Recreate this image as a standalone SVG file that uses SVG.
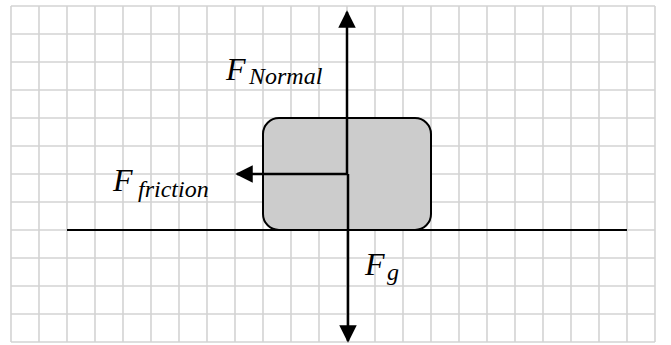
<svg xmlns="http://www.w3.org/2000/svg" width="671" height="345" viewBox="0 0 671 345">
<style>
.grid line{stroke:#d3d3d3;stroke-width:1.6}
.conn line{stroke:#000;stroke-width:2.5}
.lbl{font-family:"Liberation Serif","Times New Roman",serif;font-style:italic;fill:#000}
.big{font-size:32px}
.sub{font-size:24px}
</style>
<defs>
<marker id="ah" viewBox="0 0 10 10" refX="9" refY="5" markerWidth="7" markerHeight="7" markerUnits="strokeWidth" orient="auto">
<path d="M0,0 L10,5 L0,10 Z" fill="#000"/>
</marker>
</defs>
<rect x="0" y="0" width="671" height="345" fill="#fff"/>
<g class="grid" id="grid">
<line x1="11" y1="6" x2="11" y2="342"/><line x1="39" y1="6" x2="39" y2="342"/><line x1="67" y1="6" x2="67" y2="342"/><line x1="95" y1="6" x2="95" y2="342"/><line x1="123" y1="6" x2="123" y2="342"/><line x1="151" y1="6" x2="151" y2="342"/><line x1="179" y1="6" x2="179" y2="342"/><line x1="207" y1="6" x2="207" y2="342"/><line x1="235" y1="6" x2="235" y2="342"/><line x1="263" y1="6" x2="263" y2="342"/><line x1="291" y1="6" x2="291" y2="342"/><line x1="319" y1="6" x2="319" y2="342"/><line x1="347" y1="6" x2="347" y2="342"/><line x1="375" y1="6" x2="375" y2="342"/><line x1="403" y1="6" x2="403" y2="342"/><line x1="431" y1="6" x2="431" y2="342"/><line x1="459" y1="6" x2="459" y2="342"/><line x1="487" y1="6" x2="487" y2="342"/><line x1="515" y1="6" x2="515" y2="342"/><line x1="543" y1="6" x2="543" y2="342"/><line x1="571" y1="6" x2="571" y2="342"/><line x1="599" y1="6" x2="599" y2="342"/><line x1="627" y1="6" x2="627" y2="342"/><line x1="655" y1="6" x2="655" y2="342"/>
<line x1="11" y1="6" x2="655" y2="6"/><line x1="11" y1="34" x2="655" y2="34"/><line x1="11" y1="62" x2="655" y2="62"/><line x1="11" y1="90" x2="655" y2="90"/><line x1="11" y1="118" x2="655" y2="118"/><line x1="11" y1="146" x2="655" y2="146"/><line x1="11" y1="174" x2="655" y2="174"/><line x1="11" y1="202" x2="655" y2="202"/><line x1="11" y1="230" x2="655" y2="230"/><line x1="11" y1="258" x2="655" y2="258"/><line x1="11" y1="286" x2="655" y2="286"/><line x1="11" y1="314" x2="655" y2="314"/><line x1="11" y1="342" x2="655" y2="342"/>
</g>
<g id="block">
<rect x="263" y="118" width="168" height="112" rx="16" ry="16" fill="#cccccc" stroke="#000" stroke-width="2"/>
</g>
<g id="ground">
<line x1="67" y1="230" x2="627" y2="230" stroke="#000" stroke-width="2"/>
</g>
<g class="conn" id="connectors">
<line x1="347" y1="174" x2="347" y2="12" marker-end="url(#ah)"/>
<line x1="348" y1="174" x2="348" y2="341" marker-end="url(#ah)"/>
<line x1="347" y1="174" x2="237" y2="174" marker-end="url(#ah)"/>
</g>
<g id="label-normal"><text class="lbl big" x="226" y="80">F</text><text class="lbl sub" x="249" y="84">Normal</text></g>
<g id="label-friction"><text class="lbl big" x="113" y="191">F</text><text class="lbl sub" x="138" y="197">friction</text></g>
<g id="label-g"><text class="lbl big" x="365" y="275">F</text><text class="lbl sub" x="387" y="280">g</text></g>
</svg>
